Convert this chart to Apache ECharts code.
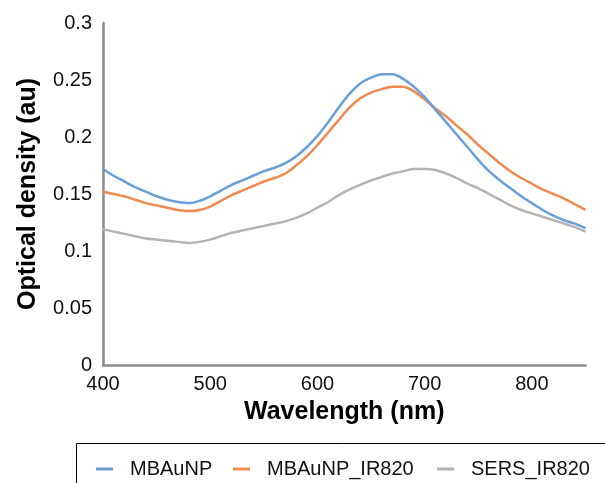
<!DOCTYPE html>
<html>
<head>
<meta charset="utf-8">
<script src="https://cdn.jsdelivr.net/npm/echarts@6/dist/echarts.min.js"></script>
<style>
html,body{margin:0;padding:0;background:#fff;}
#chart{width:605px;height:483px;}
</style>
</head>
<body>
<div id="chart"></div>
<script>
const wavelengths = [400,410,420,430,440,450,460,470,480,490,500,510,520,530,540,550,560,570,580,590,600,610,620,630,640,650,660,670,680,690,700,710,720,730,740,750,760,770,780,790,800,810,820,830,840,850];
const mbaunp = [0.172,0.166,0.161,0.156,0.152,0.148,0.145,0.143,0.142,0.144,0.148,0.153,0.158,0.162,0.166,0.170,0.173,0.177,0.183,0.191,0.201,0.213,0.226,0.238,0.247,0.252,0.255,0.255,0.251,0.244,0.235,0.224,0.213,0.202,0.191,0.180,0.170,0.162,0.155,0.148,0.142,0.136,0.131,0.127,0.124,0.120];
const mbaunpIr820 = [0.152,0.150,0.148,0.145,0.142,0.140,0.138,0.136,0.135,0.136,0.139,0.144,0.149,0.153,0.157,0.161,0.164,0.168,0.175,0.183,0.193,0.204,0.215,0.226,0.234,0.239,0.242,0.244,0.244,0.240,0.233,0.225,0.218,0.210,0.202,0.193,0.185,0.177,0.170,0.164,0.159,0.154,0.150,0.146,0.141,0.136];
const sersIr820 = [0.119,0.117,0.115,0.113,0.111,0.110,0.109,0.108,0.107,0.108,0.110,0.113,0.116,0.118,0.120,0.122,0.124,0.126,0.129,0.133,0.138,0.143,0.149,0.154,0.158,0.162,0.165,0.168,0.170,0.172,0.172,0.171,0.168,0.164,0.159,0.155,0.150,0.145,0.140,0.136,0.133,0.130,0.127,0.124,0.121,0.117];
const seriesNames = ['MBAuNP','MBAuNP_IR820','SERS_IR820'];
const seriesColors = ['#6a9fd8','#ef8a52','#b3b3b3'];
const xTicks = [400,500,600,700,800];
const yTicks = [0,0.05,0.1,0.15,0.2,0.25,0.3];

const values = [mbaunp, mbaunpIr820, sersIr820];
const FONT = '"Liberation Sans", Arial, sans-serif';

const chart = echarts.init(document.getElementById('chart'), null, {renderer:'canvas'});

const legendLefts = [91, 228, 432];
const legends = seriesNames.map((n, i) => ({
  data: [n],
  left: legendLefts[i],
  top: 454,
  icon: 'rect',
  itemWidth: 17,
  itemHeight: 3,
  itemGap: 0,
  textStyle: {fontFamily: FONT, fontSize: 20, color: '#111', padding: [0,0,0,12]},
  selectedMode: false
}));

chart.setOption({
  animation: false,
  backgroundColor: '#fff',
  grid: {left: 103, right: 19.5, top: 23, bottom: 118, containLabel: false},
  legend: legends,
  graphic: [{
    type: 'rect',
    shape: {x: 76.5, y: 443.5, width: 600, height: 100},
    style: {fill: 'none', stroke: '#000', lineWidth: 1},
    silent: true
  }],
  xAxis: {
    type: 'value',
    min: 400, max: 850, interval: 100,
    name: 'Wavelength (nm)',
    nameLocation: 'middle',
    nameGap: 35,
    nameTextStyle: {fontFamily: FONT, fontSize: 25, fontWeight: 'bold', color: '#000'},
    axisLine: {show: true, onZero: false, lineStyle: {color: '#8a8a8a', width: 2.5}},
    axisTick: {show: false},
    splitLine: {show: false},
    axisLabel: {
      fontFamily: FONT, fontSize: 20, color: '#111', margin: 9,
      showMaxLabel: false,
      formatter: v => xTicks.includes(v) ? String(v) : ''
    }
  },
  yAxis: {
    type: 'value',
    min: 0, max: 0.3, interval: 0.05,
    name: 'Optical density (au)',
    nameLocation: 'middle',
    nameGap: 62,
    nameTextStyle: {fontFamily: FONT, fontSize: 25, fontWeight: 'bold', color: '#000'},
    axisLine: {show: true, lineStyle: {color: '#8a8a8a', width: 2.5}},
    axisTick: {show: false},
    splitLine: {show: false},
    axisLabel: {
      fontFamily: FONT, fontSize: 20, color: '#111', margin: 11,
      formatter: v => {
        const t = yTicks.find(y => Math.abs(y - v) < 1e-9);
        return t === undefined ? '' : String(t);
      }
    }
  },
  series: seriesNames.map((n, i) => ({
    name: n,
    type: 'line',
    data: wavelengths.map((w, j) => [w, values[i][j]]),
    showSymbol: false,
    symbol: 'none',
    smooth: 0.3,
    lineStyle: {color: seriesColors[i], width: 2.5},
    itemStyle: {color: seriesColors[i]},
    z: 3 - i
  }))
});
</script>
</body>
</html>
